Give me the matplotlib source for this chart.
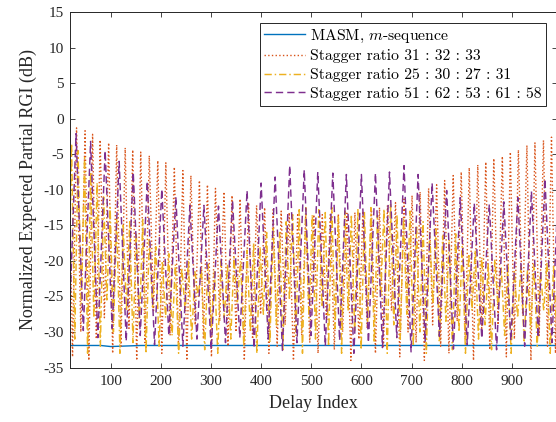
import numpy as np
import matplotlib
matplotlib.use("Agg")
import matplotlib.pyplot as plt

plt.rcParams["font.family"] = "Liberation Serif"
plt.rcParams["mathtext.fontset"] = "cm"
plt.rcParams["axes.unicode_minus"] = False

# MASM, m-sequence (almost flat)
masm_idx = [19, 80, 100, 120, 160, 1000]
masm_db = [-31.9, -31.9, -32.05, -32.0, -31.9, -31.9]

# stagger 31:32:33 -- lobe peaks and the nulls just before them
s3_peak_idx = [16, 32, 49, 64, 79, 96, 112, 129, 144, 160,
               177, 194, 210, 227, 244, 260, 277, 293, 309, 326,
               342, 358, 375, 391, 407, 424, 440, 456, 473, 489,
               505, 522, 538, 554, 571, 587, 603, 620, 636, 652,
               668, 685, 701, 717, 734, 750, 766, 783, 799, 815,
               832, 848, 864, 881, 897, 913, 930, 946, 963, 979,
               995]
s3_peak_db = [-1.0, -1.3, -1.7, -2.2, -3.0, -3.4, -3.7, -4.1, -4.4, -4.7,
              -5.2, -5.9, -6.2, -6.8, -7.3, -8.0, -8.7, -9.3, -9.8, -10.3,
              -10.8, -11.3, -11.8, -12.2, -12.5, -12.8, -13.0, -13.2, -13.3, -13.4,
              -13.5, -13.5, -13.5, -13.4, -13.3, -13.2, -13.0, -12.8, -12.5, -12.2,
              -11.8, -11.3, -10.8, -10.3, -9.8, -9.3, -8.7, -8.0, -7.5, -6.9,
              -6.5, -6.1, -5.6, -5.3, -4.7, -4.4, -3.75, -3.4, -3.05, -2.6,
              -2.2]
s3_null_db = [-30, -33.5, -30, -34, -31, -28, -33, -32, -29.5, -34,
              -31.5, -27, -33, -30.5, -32.5, -34, -29, -31, -33.5, -28.5,
              -32, -30, -34, -31, -27.5, -33, -32, -29, -34, -30.5,
              -31.5, -33, -28, -32.5, -30, -34, -31, -29.5, -33, -32,
              -27, -33.5, -30, -31.5, -34, -29, -32, -33, -28.5, -31,
              -34, -30, -32.5, -29, -33.5, -31, -27.5, -34, -30.5, -32,
              -33]

# stagger 25:30:27:31
s4_peak_idx = [22, 35, 48, 60, 73, 86, 99, 112, 125, 138,
               151, 164, 177, 190, 203, 216, 229, 242, 255, 268,
               281, 294, 307, 320, 333, 346, 359, 372, 385, 398,
               411, 424, 437, 450, 463, 476, 489, 502, 515, 528,
               541, 554, 567, 580, 593, 606, 619, 632, 645, 658,
               671, 684, 697, 710, 723, 736, 749, 762, 775, 788,
               801, 814, 827, 840, 853, 866, 879, 892, 905, 918,
               931, 944, 957, 970, 983, 996]
s4_peak_db = [-3.5, -4.5, -5.5, -7.5, -9.0, -11.0, -12.5, -14.0, -15.0, -14.5,
              -16.0, -14.2, -17.0, -18.0, -20.0, -19.0, -20.5, -21.0, -20.0, -21.5,
              -21.0, -20.5, -21.5, -20.0, -20.5, -19.5, -20.0, -18.5, -17.5, -18.0,
              -16.0, -15.5, -16.0, -14.5, -13.5, -12.8, -12.5, -13.5, -12.8, -13.2,
              -12.5, -13.8, -13.0, -13.5, -12.8, -13.2, -12.5, -13.6, -12.7, -12.0,
              -13.5, -14.0, -13.0, -15.0, -14.5, -16.0, -15.5, -16.5, -17.0, -16.2,
              -18.0, -19.0, -18.5, -19.5, -20.5, -19.8, -21.0, -20.5, -21.5, -20.8,
              -21.2, -20.5, -21.5, -20.2, -20.8, -20.5]
s4_null_db = [-30, -31, -26, -33, -28, -32, -25.5, -30, -33, -27,
              -31.5, -29, -33, -26.5, -32, -28, -30.5, -33, -27, -31,
              -25, -32.5, -29.5, -33, -28, -31, -26, -32, -30, -33,
              -27.5, -31.5, -29, -32.5, -25.5, -30.5, -33, -28, -31, -26.5,
              -32, -29.5, -33, -27, -30, -32.5, -28.5, -31.5, -25, -33,
              -29, -31, -27.5, -32, -30, -33, -26, -31.5, -28.5, -32.5,
              -30, -33, -27, -31, -29, -32.5, -26.5, -30.5, -33, -28,
              -31.5, -29.5, -32, -27, -33, -30]

# stagger 51:62:53:61:58
s5_peak_idx = [31, 60, 89, 117, 145, 173, 202, 230, 258, 286,
               315, 343, 372, 400, 428, 457, 486, 513, 543, 570,
               600, 628, 656, 685, 713, 741, 770, 797, 825, 855,
               884, 912, 939, 966, 994]
s5_peak_db = [-2.1, -3.2, -4.5, -6.0, -7.5, -8.8, -9.9, -11.0, -12.2, -12.2,
              -12.3, -11.5, -10.1, -9.05, -8.2, -6.6, -7.2, -7.5, -7.65, -7.85,
              -7.85, -7.65, -7.5, -6.6, -7.85, -9.05, -10.1, -11.1, -11.9, -12.05,
              -11.7, -11.1, -10.2, -8.45, -6.5]
s5_null_db = [-31.0, -29.8, -30.8, -29.5, -31.3, -30.5, -31.8, -30.5, -32.0, -31.0,
              -32.5, -31.5, -30.8, -32.3, -31.0, -32.6, -31.5, -30.5, -32.0, -31.2,
              -33.0, -31.5, -32.2, -30.8, -32.8, -31.4, -30.6, -32.4, -31.8, -30.9,
              -32.5, -31.2, -32.0, -30.8, -31.5]

labels = ["MASM, $m$-sequence",
          "Stagger ratio 31 : 32 : 33",
          "Stagger ratio 25 : 30 : 27 : 31",
          "Stagger ratio 51 : 62 : 53 : 61 : 58"]


def lobes(peak_idx, peak_db, null_db):
    # null sits halfway before each peak
    peak_idx = np.asarray(peak_idx, float)
    gaps = np.diff(peak_idx)
    half = np.concatenate([[gaps[0]], gaps]) / 2
    x = np.empty(2 * len(peak_idx))
    y = np.empty_like(x)
    x[0::2] = peak_idx - half
    x[1::2] = peak_idx
    y[0::2] = null_db
    y[1::2] = peak_db
    return x, y


fig = plt.figure(figsize=(5.56, 4.22), dpi=100)
ax = fig.add_axes([0.1264, 0.1291, 0.8754, 0.8424])

ax.plot(masm_idx, masm_db, color="#0072BD", lw=1.0, label=labels[0])
x, y = lobes(s3_peak_idx, s3_peak_db, s3_null_db)
ax.plot(x, y, color="#D95319", lw=1.0, ls=":", label=labels[1])
x, y = lobes(s4_peak_idx, s4_peak_db, s4_null_db)
ax.plot(x, y, color="#EDB120", lw=1.05, dashes=(5, 2, 1, 2), label=labels[2])
x, y = lobes(s5_peak_idx, s5_peak_db, s5_null_db)
ax.plot(x, y, color="#7E2F8E", lw=1.05, dashes=(5, 2.8), label=labels[3])

ax.set_xlim(19.5, 990)
ax.set_ylim(-35, 15)
ax.set_xticks(np.arange(100, 1000, 100))
ax.set_yticks(np.arange(-35, 16, 5))

ax.tick_params(direction="in", length=3.8, width=0.6, top=True, right=True,
               labelsize=11, colors="#262626")
ax.tick_params(axis="y", pad=4.5)
ax.tick_params(axis="x", pad=5.5)
for s in ax.spines.values():
    s.set_linewidth(0.7)
    s.set_color("#262626")

ax.set_xlabel("Delay Index", fontsize=13, color="#262626", labelpad=5)
ax.set_ylabel("Normalized Expected Partial RGI (dB)", fontsize=13,
              color="#262626", labelpad=5)

leg = ax.legend(loc="upper right", bbox_to_anchor=(546 / 556, 1 - 23 / 422),
                bbox_transform=fig.transFigure, borderaxespad=0,
                prop={"family": "cmr10", "size": 11.3}, fancybox=False,
                edgecolor="#262626", framealpha=1, handlelength=2.6,
                handletextpad=0.3, labelspacing=0.3, borderpad=0.3)
leg.get_frame().set_linewidth(0.7)

fig.savefig("out.png", dpi=100)
